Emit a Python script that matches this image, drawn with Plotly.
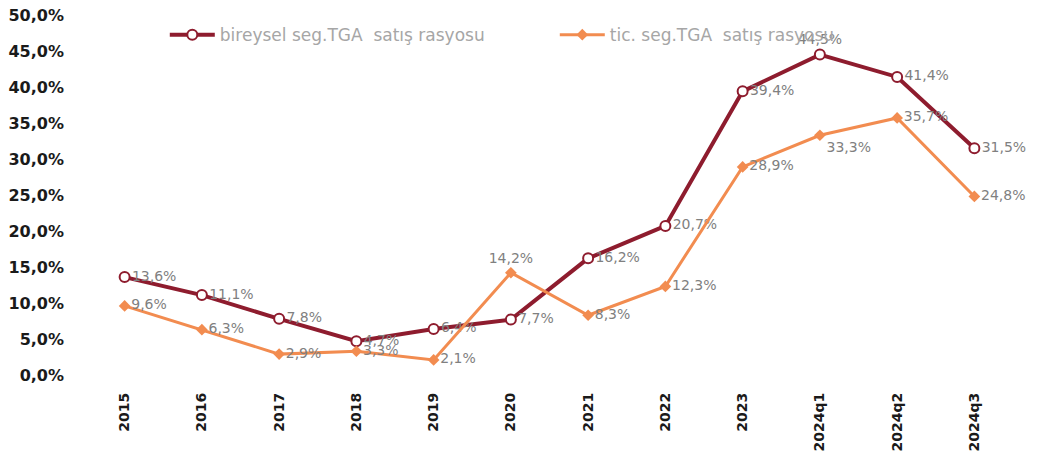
import plotly.graph_objects as go

categories = ["2015", "2016", "2017", "2018", "2019", "2020", "2021", "2022",
              "2023", "2024q1", "2024q2", "2024q3"]
bireysel = [13.6, 11.1, 7.8, 4.7, 6.4, 7.7, 16.2, 20.7, 39.4, 44.5, 41.4, 31.5]
ticari = [9.6, 6.3, 2.9, 3.3, 2.1, 14.2, 8.3, 12.3, 28.9, 33.3, 35.7, 24.8]
bireysel_name = "bireysel seg.TGA  satış rasyosu"
ticari_name = "tic. seg.TGA  satış rasyosu"
y_tickvals = [0, 5, 10, 15, 20, 25, 30, 35, 40, 45, 50]
y_ticktext = ["0,0%", "5,0%", "10,0%", "15,0%", "20,0%", "25,0%", "30,0%",
              "35,0%", "40,0%", "45,0%", "50,0%"]

bireysel_pos = ["middle right"] * 12
bireysel_pos[9] = "top center"
ticari_pos = ["middle right"] * 12
ticari_pos[5] = "top center"
ticari_pos[9] = "bottom right"


def fmt(v):
    return f"{v:.1f}%".replace(".", ",")


RED = "#8E1C2E"
ORANGE = "#F28C50"
LABEL = "#808080"
FONT = "DejaVu Sans, sans-serif"

fig = go.Figure()
fig.add_trace(go.Scatter(
    x=categories, y=bireysel, name=bireysel_name, mode="lines+markers+text",
    line=dict(color=RED, width=4),
    marker=dict(symbol="circle", size=10, color="white", line=dict(color=RED, width=2)),
    text=[fmt(v) for v in bireysel], textposition=bireysel_pos,
    textfont=dict(family=FONT, size=14, color=LABEL),
    cliponaxis=False,
))
fig.add_trace(go.Scatter(
    x=categories, y=ticari, name=ticari_name, mode="lines+markers+text",
    line=dict(color=ORANGE, width=3),
    marker=dict(symbol="diamond", size=9, color=ORANGE),
    text=[fmt(v) for v in ticari], textposition=ticari_pos,
    textfont=dict(family=FONT, size=14, color=LABEL),
    cliponaxis=False,
))

fig.update_layout(
    width=1039, height=466,
    margin=dict(l=86, r=26, t=15, b=91),
    paper_bgcolor="white", plot_bgcolor="white",
    showlegend=True,
    legend=dict(orientation="h", x=0.085, y=0.944, xanchor="left", yanchor="middle",
                font=dict(family=FONT, size=17, color="#A6A6A6"),
                itemwidth=45, entrywidth=330, bgcolor="rgba(0,0,0,0)"),
    xaxis=dict(type="category", range=[-0.5, len(categories) - 0.5],
               tickangle=-90, showgrid=False, showline=False,
               ticks="", ticklabelstandoff=14, automargin=False,
               tickfont=dict(family=FONT, size=14, color="#1A1A1A", weight="bold")),
    yaxis=dict(range=[0, 50], tickvals=y_tickvals, ticktext=y_ticktext,
               showgrid=False, zeroline=False, showline=False, ticks="",
               ticklabelstandoff=21, automargin=False, ticklabeloverflow="allow",
               tickfont=dict(family=FONT, size=16, color="#1A1A1A", weight="bold")),
)

fig.write_html("out.html", config={"displayModeBar": False},
               post_script="document.body.style.margin='0';document.body.style.padding='0';")
